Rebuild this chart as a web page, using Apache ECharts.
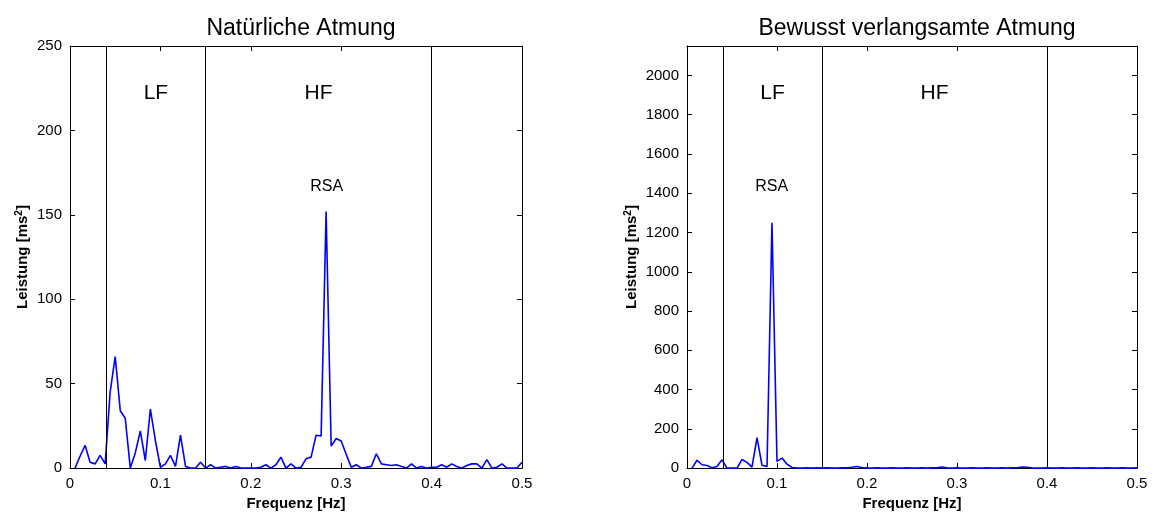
<!DOCTYPE html>
<html>
<head>
<meta charset="utf-8">
<script src="https://cdn.jsdelivr.net/npm/echarts@6/dist/echarts.min.js"></script>
<style>html,body{margin:0;padding:0;background:#fff}#c{width:1155px;height:516px}</style>
</head>
<body>
<div id="c"></div>
<script>
// Frequency bins [Hz]
const freq = [0.0056,0.0111,0.0167,0.0222,0.0278,0.0333,0.0389,0.0444,0.05,0.0556,
0.0611,0.0667,0.0722,0.0778,0.0833,0.0889,0.0944,0.1,0.1056,0.1111,
0.1167,0.1222,0.1278,0.1333,0.1389,0.1444,0.15,0.1556,0.1611,0.1667,
0.1722,0.1778,0.1833,0.1889,0.1944,0.2,0.2056,0.2111,0.2167,0.2222,
0.2278,0.2333,0.2389,0.2444,0.25,0.2556,0.2611,0.2667,0.2722,0.2778,
0.2833,0.2889,0.2944,0.3,0.3056,0.3111,0.3167,0.3222,0.3278,0.3333,
0.3389,0.3444,0.35,0.3556,0.3611,0.3667,0.3722,0.3778,0.3833,0.3889,
0.3944,0.4,0.4056,0.4111,0.4167,0.4222,0.4278,0.4333,0.4389,0.4444,
0.45,0.4556,0.4611,0.4667,0.4722,0.4778,0.4833,0.4889,0.4944,0.5];

// Natürliche Atmung – Leistung [ms²]
const powerNatural = [0,7,13.5,3.5,2.5,7.5,2.5,45,66,34,
29.5,0,9,22,4.5,35,16.5,0.5,2.5,7.5,
1,19.5,1,0,0,3.5,0,2,0,0.5,
1,0,1,0,0,0,0,0.5,2,0,
2,6.5,0,2.5,0,0.5,5.5,6.5,19.5,19,
152,13,17.5,16,8,0.5,2,0,0.5,1,
8.5,2.5,2,1.5,2,1,0,2.5,0,1,
0,0.5,0.5,2,0.5,2.5,1,0,1.5,2.5,
2.5,0,5,0,0.5,2.5,0,0,0,3.5];

// Bewusst verlangsamte Atmung – Leistung [ms²]
const powerSlow = [0,40,17,13,2,8,42,0,0,0,
44,29,5,155,15,8,1250,34,51,20,
3,1,0,1,0,1,0,1,0,0,
1,2,4,8,3,1,0,1,0,0,
1,0,0,1,0,0,1,0,1,2,
5,2,0,1,0,0,1,0,0,1,
0,0,1,0,1,2,5,4,1,0,
0,1,0,0,1,0,0,1,0,0,
1,0,0,1,0,0,1,0,0,1];

const bandEdges = [0.04, 0.15, 0.4];
const titles = ['Natürliche Atmung', 'Bewusst verlangsamte Atmung'];
const notesNatural = [{name:'LF', value:[0.095, 222]}, {name:'HF', value:[0.275, 222]}, {name:'RSA', value:[0.284, 167]}];
const notesSlow = [{name:'LF', value:[0.095, 1912]}, {name:'HF', value:[0.275, 1912]}, {name:'RSA', value:[0.094, 1435]}];

const FONT = "'Liberation Sans', Arial, Helvetica, sans-serif";
const chart = echarts.init(document.getElementById('c'), null, {renderer:'canvas'});

const grids = [
  {left:70, right:633, top:46, bottom:46},
  {left:687, right:18, top:46, bottom:46}
];
const yRanges = [{max:250, interval:50}, {max:2150, interval:200}];

const xAxes = [], yAxes = [], series = [];
const blk = '#000';
grids.forEach((g, i) => {
  const commonX = {type:'value', gridIndex:i, min:0, max:0.5, interval:0.1,
    splitLine:{show:false}, axisLine:{show:true, onZero:false, lineStyle:{color:blk, width:1}},
    axisTick:{show:true, inside:true, length:5, lineStyle:{color:blk}}};
  xAxes.push(Object.assign({}, commonX, {position:'bottom',
    name:'Frequenz [Hz]', nameLocation:'middle', nameGap:27,
    nameTextStyle:{fontFamily:FONT, fontSize:15, fontWeight:'bold', color:blk},
    axisLabel:{color:blk, fontFamily:FONT, fontSize:15, margin:8,
      formatter: v => String(+v.toFixed(2))}}));
  xAxes.push(Object.assign({}, commonX, {position:'top', axisLabel:{show:false}}));
  const commonY = {type:'value', gridIndex:i, min:0, max:yRanges[i].max, interval:yRanges[i].interval,
    splitLine:{show:false}, axisLine:{show:true, onZero:false, lineStyle:{color:blk, width:1}},
    axisTick:{show:true, inside:true, length:5, lineStyle:{color:blk}}};
  yAxes.push(Object.assign({}, commonY, {position:'left',
    name:'{b|Leistung [ms}{s|2}{b|]}', nameLocation:'middle', nameRotate:90,
    nameGap: i === 0 ? 38 : 46,
    nameTextStyle:{rich:{
      b:{fontFamily:FONT, fontSize:15, fontWeight:'bold', color:blk, lineHeight:18},
      s:{fontFamily:FONT, fontSize:10, fontWeight:'bold', color:blk, lineHeight:8, verticalAlign:'top'}}},
    axisLabel:{color:blk, fontFamily:FONT, fontSize:15, margin:8, showMaxLabel: i === 0,
      formatter: v => String(Math.round(v))}}));
  yAxes.push(Object.assign({}, commonY, {position:'right', axisLabel:{show:false}}));

  const vals = i === 0 ? powerNatural : powerSlow;
  series.push({
    type:'line', xAxisIndex:2*i, yAxisIndex:2*i,
    data: freq.map((f, k) => [f, vals[k]]),
    showSymbol:false, symbol:'none', lineStyle:{color:'#0000ff', width:1.6},
    animation:false, silent:true,
    markLine:{silent:true, symbol:'none', animation:false,
      label:{show:false}, lineStyle:{color:blk, type:'solid', width:1},
      data: bandEdges.map(b => ({xAxis:b}))}
  });
  const notes = i === 0 ? notesNatural : notesSlow;
  series.push({
    type:'scatter', xAxisIndex:2*i, yAxisIndex:2*i, symbolSize:0, silent:true, animation:false,
    itemStyle:{opacity:1},
    data: notes,
    label:{show:true, position:'inside', color:blk, opacity:1, fontFamily:FONT,
      formatter: p => p.name === 'RSA' ? '{r|RSA}' : '{l|' + p.name + '}',
      rich:{l:{fontSize:21, fontFamily:FONT, color:blk}, r:{fontSize:16, fontFamily:FONT, color:blk}}}
  });
});

chart.setOption({
  backgroundColor:'#fff',
  animation:false,
  title: titles.map((t, i) => ({
    text:t, left: i === 0 ? 296 : 912, top:12, textAlign:'center',
    textStyle:{fontFamily:FONT, fontSize:23, fontWeight:'normal', color:blk}
  })),
  grid: grids.map(g => Object.assign({show:false}, g)),
  xAxis: xAxes,
  yAxis: yAxes,
  series: series
});
</script>
</body>
</html>
